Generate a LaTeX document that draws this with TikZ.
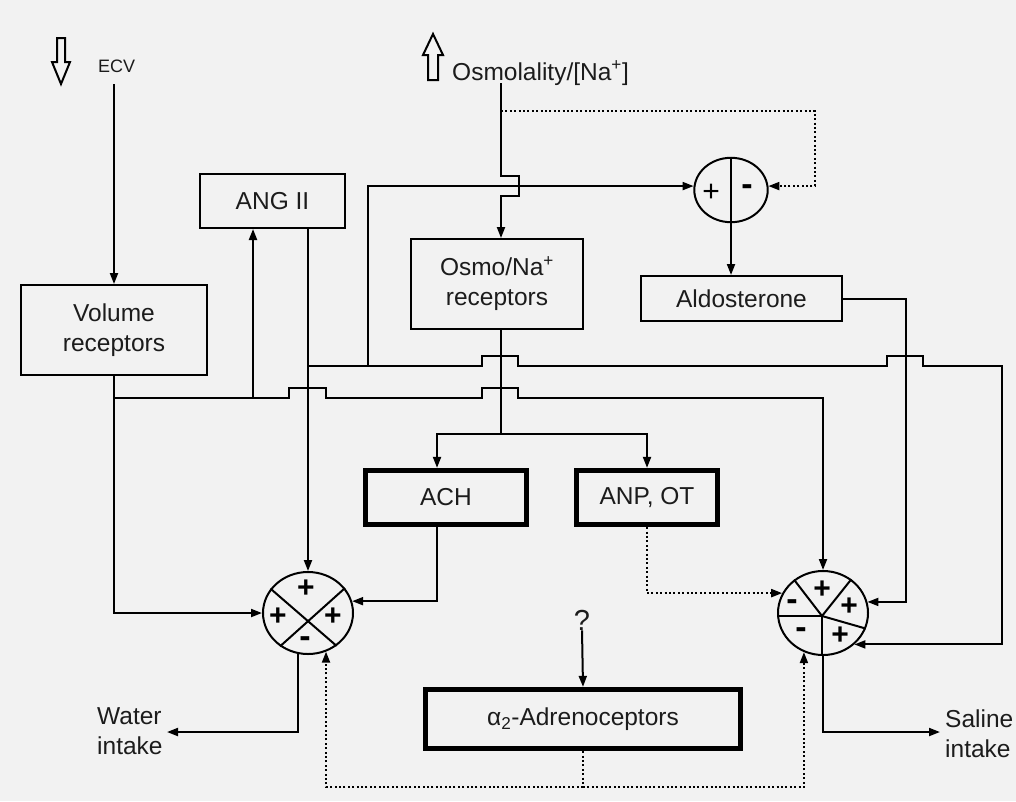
\documentclass[tikz,border=0pt]{standalone}
\usepackage{fontspec}
\setmainfont{Liberation Sans}
\usetikzlibrary{arrows.meta,shapes.geometric}
\definecolor{bg}{HTML}{F2F2F2}
\definecolor{ink}{HTML}{1C1C1C}

\begin{document}
\begin{tikzpicture}[x=1pt,y=-1pt,
  wire/.style={line width=2pt, draw=black},
  arr/.style={wire, -{Triangle[length=11pt,width=8pt]}},
  dotwire/.style={wire, dash pattern=on 2pt off 2.4pt},
  darr/.style={dotwire, -{Triangle[length=11pt,width=8pt]}},
  txt/.style={font=\fontsize{24.5}{30}\selectfont, text=ink, inner sep=0pt},
  box/.style={txt, draw=black, line width=2pt, rectangle, align=center},
  heavybox/.style={box, line width=4.8pt},
  sum/.style={draw=black, ellipse, line width=2pt, inner sep=0pt},
  sign/.style={font=\fontsize{30}{30}\selectfont\bfseries, text=black, inner sep=0pt},
  thinsign/.style={font=\fontsize{30}{30}\selectfont, text=black, inner sep=0pt},
  minus/.style={font=\fontsize{34}{34}\selectfont\bfseries, text=black, inner sep=0pt},
  hollow/.style={draw=black, line width=2pt, line join=miter, fill=bg},
]
% canvas
\fill[bg] (0,0) rectangle (1016,801);
\useasboundingbox (0,0) rectangle (1016,801);

% hollow trend arrows
\draw[hollow] (57,38) -- (65,38) -- (65,62) -- (70,62) -- (61,84) -- (52,62) -- (57,62) -- cycle;
\draw[hollow] (428,80) -- (438,80) -- (438,55) -- (443,55) -- (433,34) -- (423,55) -- (428,55) -- cycle;
\node[txt, font=\fontsize{18}{20}\selectfont, anchor=base west] (ecv) at (98,72) {ECV};
\node[txt, anchor=base west] (osm) at (452,80) {Osmolality/[Na\textsuperscript{+}]};

% blocks
\node[box, minimum width=186pt, minimum height=90pt] (vol) at (114,330) {Volume\\receptors};
\node[box, minimum width=145pt, minimum height=54pt] (ang) at (272.5,201) {ANG II};
\node[box, minimum width=172pt, minimum height=90pt] (osmo) at (497,284) {Osmo/Na\textsuperscript{+}\\receptors};
\node[box, minimum width=201pt, minimum height=45pt] (ald) at (741.5,298.5) {Aldosterone};
\node[heavybox, minimum width=161.5pt, minimum height=54.5pt] (ach) at (446,497.5) {ACH};
\node[heavybox, minimum width=141.5pt, minimum height=54.5pt] (anp) at (647,497.5) {ANP, OT};
\node[heavybox, minimum width=315.5pt, minimum height=59.5pt] (alpha) at (583,719) {α\textsubscript{2}-Adrenoceptors};
\node[txt, font=\fontsize{29}{30}\selectfont] (q) at (582,620) {?};

% summing junctions
\node[sum, minimum width=73.4pt, minimum height=64.4pt] (sumA) at (731,190) {};
\node[sum, minimum width=90pt, minimum height=82pt] (sumW) at (308,613) {};
\node[sum, minimum width=90pt, minimum height=84pt] (sumS) at (823,613) {};

% junction dividers and signs
\draw[wire] (sumA.north) -- (sumA.south);
\node[thinsign] (aP) at (711,193) {+};
\node[minus] (aM) at (747,190) {-};

\draw[wire] (sumW.147) -- (sumW.-49);
\draw[wire] (sumW.34) -- (sumW.-130);
\node[sign] (wP1) at (306,589) {+};
\node[sign] (wP2) at (278,617) {+};
\node[sign] (wP3) at (333,617) {+};
\node[minus] (wM) at (305,642) {-};

\coordinate (hub) at (822,616);
\draw[wire] (hub) -- (sumS.131);
\draw[wire] (hub) -- (sumS.50);
\draw[wire] (hub) -- (hub -| sumS.west);
\draw[wire] (hub) -- (hub |- sumS.south);
\draw[wire] (hub) -- (sumS.-20);
\node[sign] (sP1) at (822,590) {+};
\node[sign] (sP2) at (849,607) {+};
\node[minus] (sM1) at (792,605) {-};
\node[minus] (sM2) at (801,633) {-};
\node[sign] (sP3) at (840,636) {+};

% bend and free-end points
\coordinate (ecvTop) at (114,84);
\coordinate (osTop) at (501,83);
\coordinate (split) at (501,434);
\coordinate (achX) at (437,0);
\coordinate (aldX) at (906,0);
\coordinate (farR) at (1002,366);
\coordinate (hiL) at (308,366);
\coordinate (loL) at (114,398);
\coordinate (angIn) at (253,398);
\coordinate (aldBr) at (368,366);
\coordinate (fbTop) at (815,111);
\coordinate (dotMid) at (583,787);
\coordinate (wout) at (167,732);
\coordinate (sout) at (940,732);

% volume receptor path
\draw[arr] (ecvTop) -- (vol.north);
\draw[arr] (vol.south) |- (sumW.west);
\draw[arr] (loL) -- (289,398) -- (289,388) -- (326,388) -- (326,398)
  -- (482,398) -- (482,388) -- (518,388) -- (518,398) -- (823,398) -- (sumS.north);
\draw[arr] (angIn) -- (angIn |- ang.south);

% angiotensin path
\draw[arr] (ang.south -| sumW.north) -- (sumW.north);
\draw[arr] (hiL) -- (482,366) -- (482,356) -- (518,356) -- (518,366)
  -- (887,366) -- (887,356) -- (923,356) -- (923,366) -- (farR) |- (sumS.-45);
\draw[arr] (aldBr) |- (sumA.174);

% osmolality path
\draw[arr] (osTop) -- (501,176) -- (519,176) -- (519,196) -- (501,196) -- (osTop |- osmo.north);
\draw[darr] (osTop |- fbTop) -- (fbTop) |- (sumA.6);
\draw[wire] (osTop |- osmo.south) -- (split);
\draw[arr] (split) -| (ach.north -| achX);
\draw[arr] (split) -| (anp.north);

% aldosterone
\draw[arr] (sumA.south) -- (sumA.south |- ald.north);
\draw[arr] (ald.east) -| (aldX |- sumS.14) -- (sumS.14);

% ACH, ANP/OT
\draw[arr] (ach.south -| achX) |- (sumW.15);
\draw[darr] (anp.south) |- (sumS.154);

% alpha-2 adrenoceptors
\draw[arr] (q.south) -- (alpha.north);
\draw[dotwire] (alpha.south) -- (dotMid);
\draw[darr] (dotMid) -| (sumW.-65);
\draw[darr] (dotMid) -| (sumS.-116);

% outputs
\draw[arr] (sumW.-104) |- (wout);
\draw[arr] (sumS.south) |- (sout);
\node[txt, anchor=west, align=left] (water) at (97,731) {Water\\intake};
\node[txt, anchor=west, align=left] (saline) at (945,734) {Saline\\intake};
\end{tikzpicture}
\end{document}
